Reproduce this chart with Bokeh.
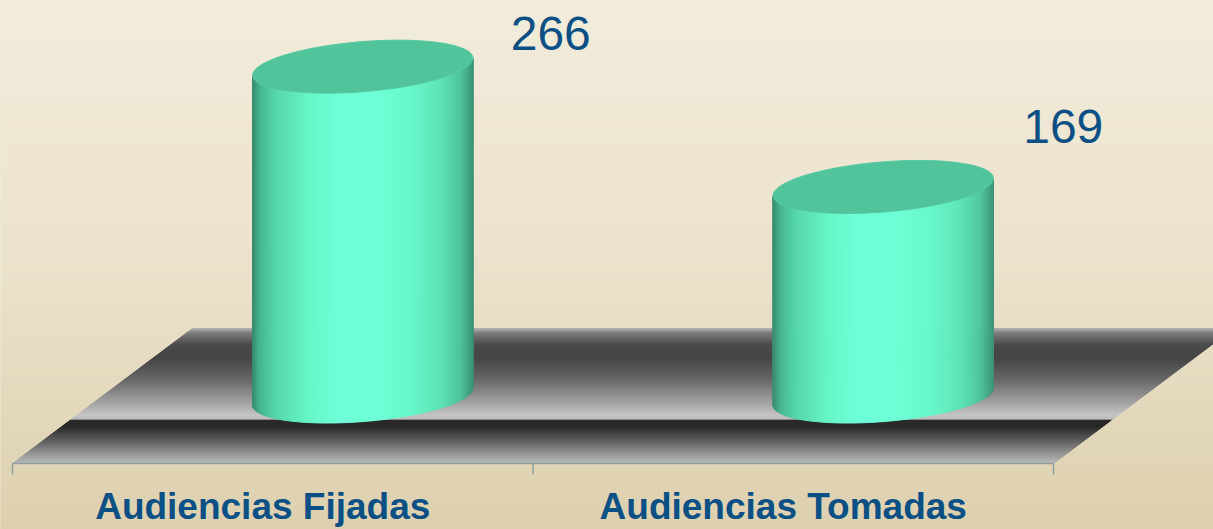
import numpy as np
from bokeh.plotting import figure
from bokeh.models import Range1d
from bokeh.embed import file_html
from bokeh.resources import INLINE
from bokeh.core.properties import value

# ---------------- data ----------------
categories = ["Audiencias Fijadas", "Audiencias Tomadas"]
values = [266, 169]
value_labels = ["266", "169"]

# ---------------- layout (design space = reference pixels) ----------------
W, H = 1213, 529
REF_W, REF_H = 1213, 529
BASE_Y = 396.0        # screen y of value 0 (mid depth of floor)
K = 1.24              # screen px per unit
AX_X0, AX_X1, AX_Y = 12.0, 1053.0, 463.0
BACK_Y = 328.0
DEPTH_DX = 180.0      # x shift from front to back edge of floor


def vy(y_px):
    return (BASE_Y - np.asarray(y_px, dtype=float)) / K


def hex2rgb(h):
    h = h.lstrip("#")
    return np.array([int(h[i:i + 2], 16) for i in (0, 2, 4)], dtype=float)


def interp_color(stops, t):
    pos = [s[0] for s in stops]
    cols = [hex2rgb(s[1]) for s in stops]
    t = min(max(t, pos[0]), pos[-1])
    for i in range(len(pos) - 1):
        if pos[i] <= t <= pos[i + 1]:
            f = 0 if pos[i + 1] == pos[i] else (t - pos[i]) / (pos[i + 1] - pos[i])
            c = cols[i] * (1 - f) + cols[i + 1] * f
            return "#%02x%02x%02x" % tuple(int(round(v)) for v in c)
    c = cols[-1]
    return "#%02x%02x%02x" % tuple(int(round(v)) for v in c)


p = figure(width=W, height=H, x_range=Range1d(0, REF_W),
           y_range=Range1d(float(vy(REF_H)), float(vy(0))),
           output_backend="svg", toolbar_location=None, min_border=0,
           x_axis_type=None, y_axis_type=None)
p.outline_line_color = None
p.background_fill_color = "#ebe2ca"
p.border_fill_color = "#ebe2ca"

# ---------------- background gradient ----------------
bg_stops = [(0, "#f2ecdc"), (0.5, "#ebe2cb"), (1.0, "#ddd0af")]
step = 4
tops, bots, cols = [], [], []
for y in range(0, REF_H, step):
    tops.append(float(vy(y)))
    bots.append(float(vy(y + step)))
    cols.append(interp_color(bg_stops, (y + step / 2) / REF_H))
p.quad(left=0, right=REF_W, top=tops, bottom=bots, fill_color=cols, line_color=cols, line_width=1)

# ---------------- floor ----------------
floor_stops = [(328, "#b4b4b4"), (333, "#7c7c7c"), (345, "#4a4a4a"), (358, "#444444"),
               (380, "#686868"), (400, "#9c9c9c"), (415, "#c4c4c4"), (419, "#bcbcbc"),
               (420.5, "#2a2a2a"), (426, "#262626"), (440, "#5c5c5c"), (455, "#9a9a9a"),
               (463, "#b8b8b8")]
slope = DEPTH_DX / (AX_Y - BACK_Y)
fxs, fys, fcs = [], [], []
y = BACK_Y
while y < AX_Y:
    y2 = min(y + 1.0, AX_Y)
    xl1 = AX_X0 + DEPTH_DX - (y - BACK_Y) * slope
    xl2 = AX_X0 + DEPTH_DX - (y2 - BACK_Y) * slope
    xr1 = AX_X1 + DEPTH_DX - (y - BACK_Y) * slope
    xr2 = AX_X1 + DEPTH_DX - (y2 - BACK_Y) * slope
    fxs.append([xl1, xr1, xr2, xl2])
    fys.append(list(vy([y, y, y2, y2])))
    fcs.append(interp_color(floor_stops, (y + y2) / 2))
    y = y2
p.patches(xs=fxs, ys=fys, fill_color=fcs, line_color=fcs, line_width=1)

# ---------------- axis line and ticks ----------------
axis_col = "#8d9e9e"
p.segment(x0=[AX_X0], y0=[float(vy(AX_Y))], x1=[AX_X1], y1=[float(vy(AX_Y))],
          line_color=axis_col, line_width=1.5)
n = len(categories)
slot_w = (AX_X1 - AX_X0) / n
tick_x = [AX_X0 + slot_w * i for i in range(n + 1)]
p.segment(x0=tick_x, y0=[float(vy(AX_Y))] * len(tick_x), x1=tick_x,
          y1=[float(vy(AX_Y + 11))] * len(tick_x), line_color=axis_col, line_width=1.5)

# ---------------- cylinders ----------------
side_stops = [(0.0, "#3b8f70"), (0.03, "#47b58f"), (0.10, "#56d6ab"), (0.25, "#66f6c8"),
              (0.40, "#6effd8"), (0.55, "#6effd6"), (0.72, "#68f7ca"), (0.85, "#5ee3b8"),
              (0.94, "#4fc49e"), (1.0, "#3a9274")]
theta = np.radians(4.7)
a_ax, b_ax = 110.5, 25.0
half_w = np.sqrt(a_ax ** 2 * np.cos(theta) ** 2 + b_ax ** 2 * np.sin(theta) ** 2)
t0 = np.arctan2(b_ax * np.sin(theta), a_ax * np.cos(theta))


def ell(t):
    ox = a_ax * np.cos(t) * np.cos(theta) + b_ax * np.sin(t) * np.sin(theta)
    oy = -a_ax * np.cos(t) * np.sin(theta) + b_ax * np.sin(t) * np.cos(theta)
    return ox, oy


slot_centers = [AX_X0 + slot_w * (i + 0.5) for i in range(n)]
cyl_x = [c + DEPTH_DX / 2 for c in slot_centers]

N = 110
ts = np.linspace(t0, t0 + np.pi, N + 1)
ox, oy = ell(ts)
sxs, sys_, scs = [], [], []
txs, tys = [], []
for cx, v in zip(cyl_x, values):
    for i in range(N):
        xa, xb = cx + ox[i], cx + ox[i + 1]
        sxs.append([xa, xb, xb, xa])
        sys_.append([v - oy[i] / K, v - oy[i + 1] / K, 0 - oy[i + 1] / K, 0 - oy[i] / K])
        s = ((ox[i] + ox[i + 1]) / 2 + half_w) / (2 * half_w)
        scs.append(interp_color(side_stops, s))
    tt = np.linspace(0, 2 * np.pi, 200)
    ex, ey = ell(tt)
    txs.append(list(cx + ex))
    tys.append(list(v - ey / K))
p.patches(xs=sxs, ys=sys_, fill_color=scs, line_color=scs, line_width=1)
p.patches(xs=txs, ys=tys, fill_color="#52c49c", line_color="#55c9a0", line_width=1)

# ---------------- value labels ----------------
label_dx_px = [188, 180]
label_raise_px = [33, 60]
p.text(x=[cx + d for cx, d in zip(cyl_x, label_dx_px)],
       y=[v + r / K for v, r in zip(values, label_raise_px)],
       text=value_labels, text_font=value("Liberation Sans"), text_font_size="48px",
       text_color="#0b5085", text_align="center", text_baseline="middle")

# ---------------- category labels ----------------
p.text(x=[c - 10 for c in slot_centers], y=[float(vy(506))] * n, text=categories,
       text_font=value("Liberation Sans"), text_font_size="37px", text_font_style="bold",
       text_color="#0b5085", text_align="center", text_baseline="middle")

open("out.html", "w").write(file_html(p, INLINE))
